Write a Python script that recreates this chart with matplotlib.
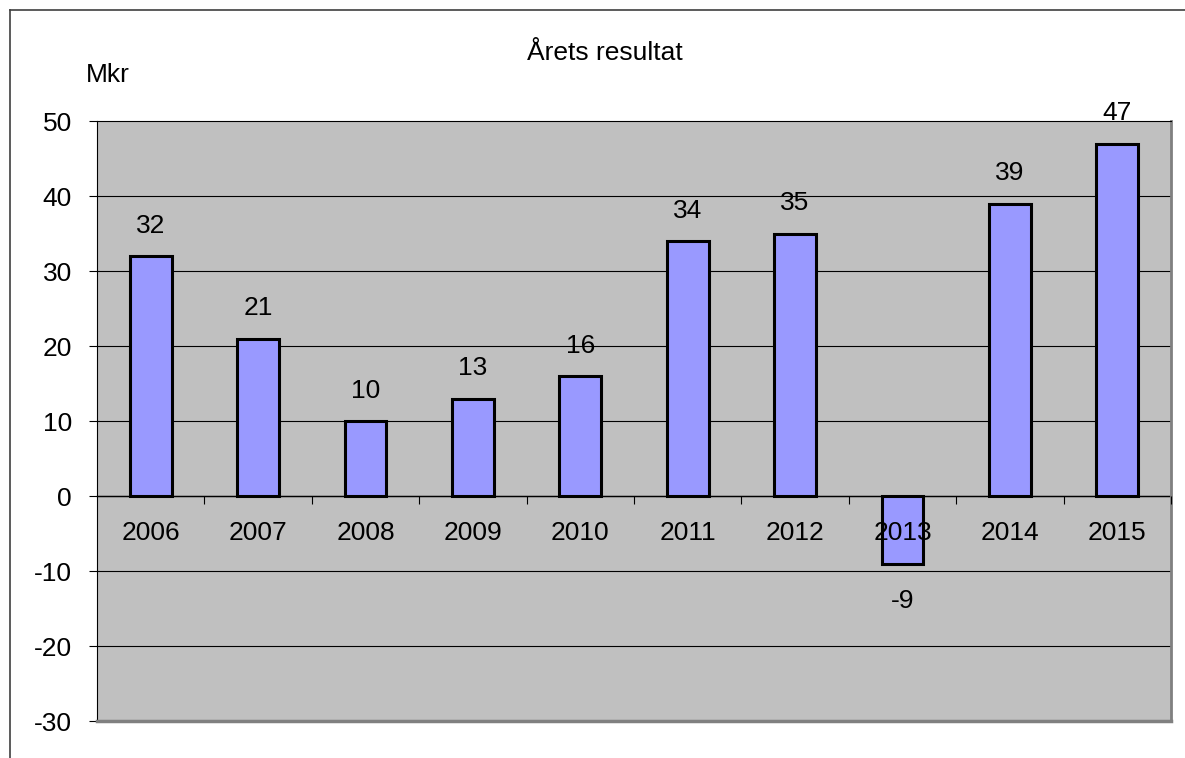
import numpy as np
import matplotlib.pyplot as plt
from matplotlib.lines import Line2D

plt.rcParams['font.family'] = ['Liberation Sans', 'DejaVu Sans']
plt.rcParams['axes.unicode_minus'] = False

years = ['2006', '2007', '2008', '2009', '2010', '2011', '2012', '2013', '2014', '2015']
result = [32, 21, 10, 13, 16, 34, 35, -9, 39, 47]

W, H = 1185, 758
fig = plt.figure(figsize=(W / 100, H / 100), dpi=100)
ax = fig.add_axes([97 / W, 1 - 721 / H, (1171 - 97) / W, (721 - 121) / H])
ax.set_facecolor('#C0C0C0')

x = np.arange(len(years))
ax.bar(x, result, width=0.39, color='#9999FF', edgecolor='black', linewidth=2.2, zorder=2)

for xi, v in zip(x, result):
    if v >= 0:
        ax.annotate(str(v), (xi, v), xytext=(0, 13), textcoords='offset points',
                    ha='center', va='bottom', fontsize=19, zorder=4)
    else:
        ax.annotate(str(v), (xi, v), xytext=(0, -18), textcoords='offset points',
                    ha='center', va='top', fontsize=19, zorder=4)

ax.set_xlim(-0.5, len(years) - 0.5)
ax.set_ylim(-30, 50)
yticks = list(range(-30, 51, 10))
ax.set_yticks(yticks)
# gridlines kept under the bars, tick labels stay on top
for yv in yticks[1:-1]:
    ax.axhline(yv, color='black', linewidth=0.8, zorder=0.5)
ax.tick_params(axis='y', direction='out', length=6, width=0.8, pad=12, labelsize=19)

# category axis drawn at zero
ax.spines['bottom'].set_position(('data', 0))
ax.spines['bottom'].set_color('black')
ax.spines['bottom'].set_linewidth(1)
ax.spines['bottom'].set_zorder(1)
ax.set_xticks(x)
ax.set_xticklabels(years)
ax.set_xticks(np.arange(0.5, len(years), 1.0), minor=True)
ax.tick_params(axis='x', which='major', length=0, pad=18, labelsize=19)
ax.tick_params(axis='x', which='minor', direction='out', length=6, width=0.8)
ax.xaxis.set_zorder(3)

ax.spines['top'].set_color('black')
ax.spines['left'].set_color('black')
ax.spines['right'].set_color('#808080')
ax.spines['right'].set_linewidth(2)
ax.axhline(-30, color='#808080', linewidth=2.5, clip_on=False, zorder=5)

fig.text(605 / W, 1 - 53 / H, 'Årets resultat', ha='center', va='center', fontsize=19)
fig.text(86 / W, 1 - 75 / H, 'Mkr', ha='left', va='center', fontsize=19)

# outer chart border
fig.add_artist(Line2D([10 / W, 10 / W], [0, 1 - 10 / H], transform=fig.transFigure,
                      color='#404040', linewidth=1.2))
fig.add_artist(Line2D([10 / W, 1], [1 - 10 / H, 1 - 10 / H], transform=fig.transFigure,
                      color='#404040', linewidth=1.2))

fig.savefig('out.png', dpi=100)
